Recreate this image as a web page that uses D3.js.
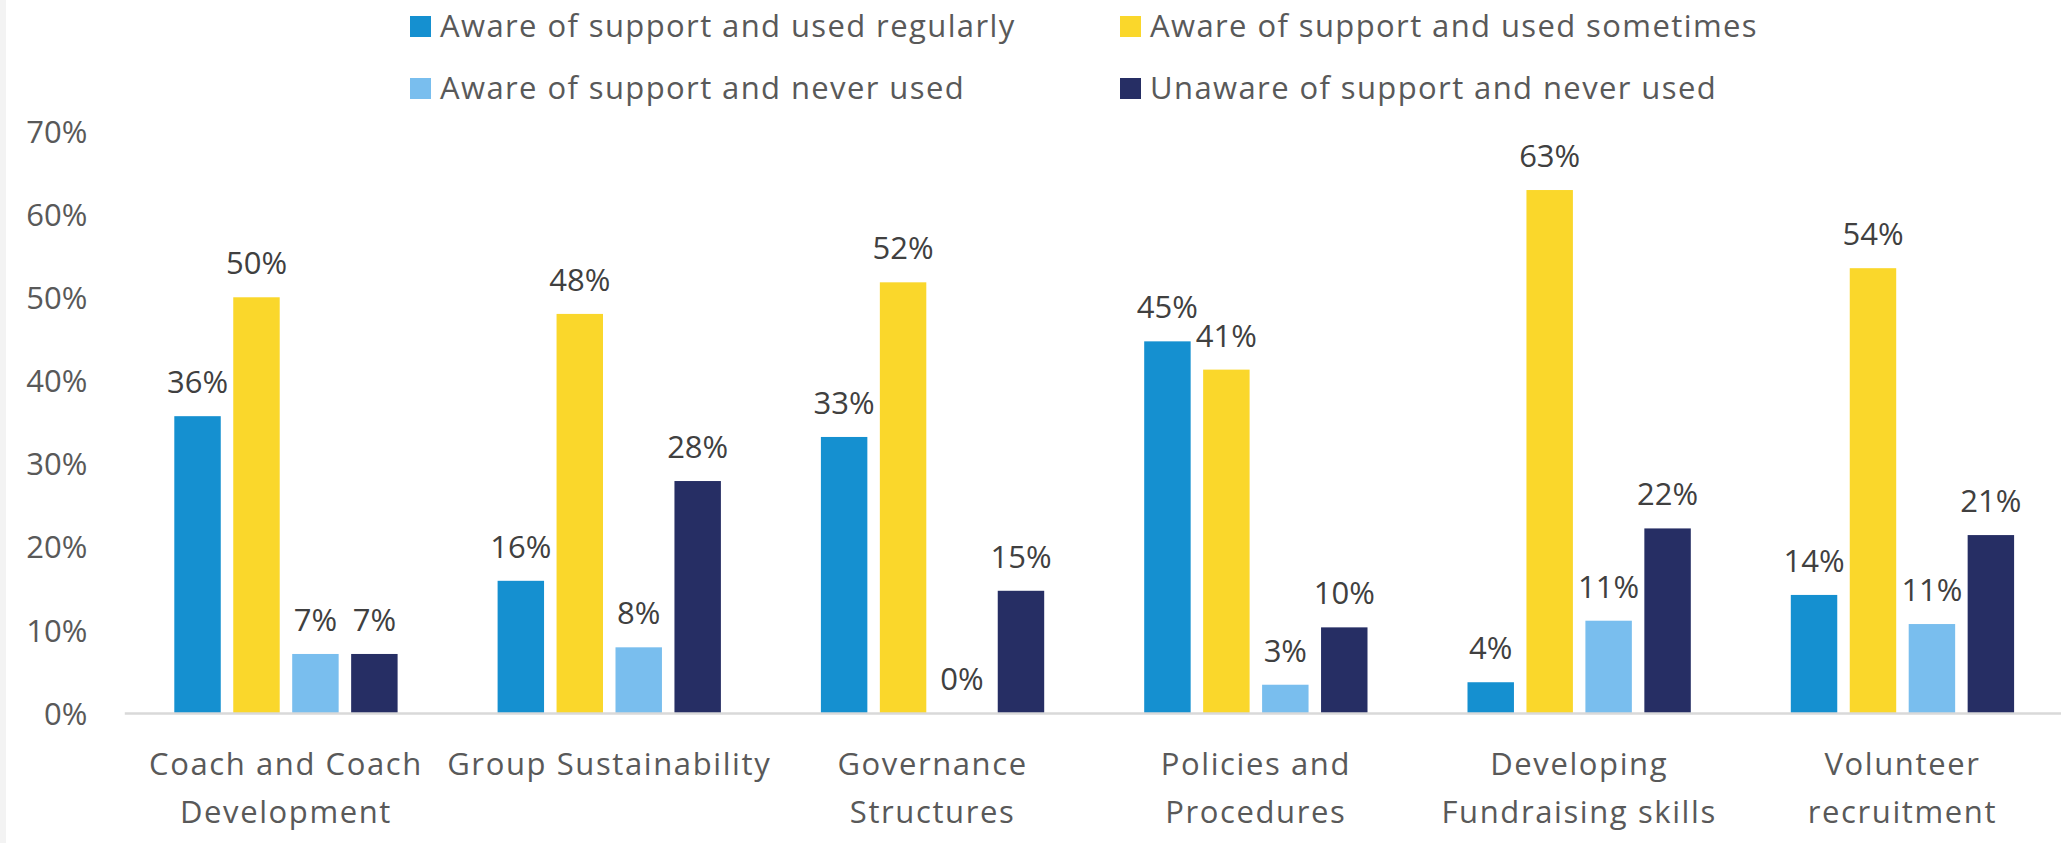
<!DOCTYPE html>
<html>
<head>
<meta charset="utf-8">
<script src="https://cdn.jsdelivr.net/npm/d3@7"></script>
<style>
  html, body { margin: 0; padding: 0; background: #ffffff; }
  svg { display: block; }
  text { font-family: "Open Sans", "DejaVu Sans", sans-serif; }
</style>
</head>
<body>
<svg id="chart" width="2061" height="843"></svg>
<script>
// Support areas (line breaks mark where each axis label wraps)
const categories = [
  "Coach and Coach\nDevelopment",
  "Group Sustainability",
  "Governance\nStructures",
  "Policies and\nProcedures",
  "Developing\nFundraising skills",
  "Volunteer\nrecruitment"
];

const seriesNames = [
  "Aware of support and used regularly",
  "Aware of support and used sometimes",
  "Aware of support and never used",
  "Unaware of support and never used"
];

const seriesColors = ["#1590D0", "#FAD72B", "#79BEEE", "#262E64"];

// Share of respondents per support area, one array per series
const usedRegularly   = [0.357, 0.159, 0.332, 0.447, 0.037, 0.142];
const usedSometimes   = [0.500, 0.480, 0.518, 0.413, 0.629, 0.535];
const neverUsed       = [0.071, 0.079, 0.000, 0.034, 0.111, 0.107];
const unawareNeverUsed = [0.071, 0.279, 0.147, 0.103, 0.222, 0.214];

const seriesValues = [usedRegularly, usedSometimes, neverUsed, unawareNeverUsed];

const yTicks = [0, 0.1, 0.2, 0.3, 0.4, 0.5, 0.6, 0.7];

const svg = d3.select("#chart");
const W = 2061, H = 843;

const plot = { left: 124.3, top: 131, bottom: 713, bandW: 323.3 };

// faint strip along the left edge
svg.append("rect")
  .attr("x", 0).attr("y", 0).attr("width", 6).attr("height", H)
  .attr("fill", "#f3f3f3");

const x0 = d3.scaleBand()
  .domain(categories)
  .range([plot.left, plot.left + plot.bandW * categories.length])
  .paddingInner(0).paddingOuter(0);

const x1 = d3.scaleBand()
  .domain(seriesNames)
  .range([50, plot.bandW - 50])
  .paddingInner(0.212).paddingOuter(0);

const y = d3.scaleLinear()
  .domain([0, 0.7])
  .range([plot.bottom, plot.top]);

const pct = d3.format(".0%");
const textGrey = "#595959";

// y axis labels
const yAxis = svg.append("g")
  .attr("transform", `translate(${plot.left},0)`)
  .call(d3.axisLeft(y).tickValues(yTicks).tickFormat(pct).tickSize(0).tickPadding(37));
yAxis.select(".domain").remove();
yAxis.selectAll("text")
  .attr("fill", textGrey)
  .style("font-size", "31px")
  .attr("dy", "0.36em");

// grouped bars
const groups = svg.append("g").selectAll("g")
  .data(categories)
  .join("g")
  .attr("transform", d => `translate(${x0(d)},0)`);

groups.each(function(cat, ci) {
  const g = d3.select(this);
  const rows = seriesNames.map((s, si) => ({ s, si, v: seriesValues[si][ci] }));
  g.selectAll("rect")
    .data(rows)
    .join("rect")
    .attr("x", d => x1(d.s))
    .attr("width", x1.bandwidth())
    .attr("y", d => y(d.v))
    .attr("height", d => y(0) - y(d.v))
    .attr("fill", d => seriesColors[d.si]);
  g.selectAll("text.value")
    .data(rows)
    .join("text")
    .attr("class", "value")
    .attr("x", d => x1(d.s) + x1.bandwidth() / 2)
    .attr("y", d => y(d.v) - 23)
    .attr("text-anchor", "middle")
    .attr("fill", "#404040")
    .style("font-size", "31px")
    .text(d => pct(d.v));
});

// x axis
const xAxis = svg.append("g")
  .attr("transform", `translate(0,${plot.bottom})`)
  .call(d3.axisBottom(x0).tickSize(0).tickSizeOuter(0).tickFormat(""));
xAxis.select(".domain")
  .attr("stroke", "#D9D9D9")
  .attr("stroke-width", 2.5);

xAxis.selectAll(".tick").each(function(d) {
  const t = d3.select(this).select("text")
    .attr("y", 0).attr("dy", null)
    .attr("fill", textGrey)
    .style("font-size", "31px")
    .style("letter-spacing", "1.6px")
    .attr("text-anchor", "middle");
  d.split("\n").forEach((line, i) => {
    t.append("tspan")
      .attr("x", 0)
      .attr("y", 62 + i * 48)
      .text(line);
  });
});

// legend, two rows of two
const legendPos = [
  { x: 410, y: 16 }, { x: 1120, y: 16 },
  { x: 410, y: 78 }, { x: 1120, y: 78 }
];
const legend = svg.append("g").selectAll("g")
  .data(seriesNames)
  .join("g")
  .attr("transform", (d, i) => `translate(${legendPos[i].x},${legendPos[i].y})`);
legend.append("rect")
  .attr("width", 21).attr("height", 21)
  .attr("fill", (d, i) => seriesColors[i]);
legend.append("text")
  .attr("x", 30)
  .attr("y", 21)
  .attr("fill", textGrey)
  .style("font-size", "31px")
  .style("letter-spacing", "1.4px")
  .text(d => d);
</script>
</body>
</html>
